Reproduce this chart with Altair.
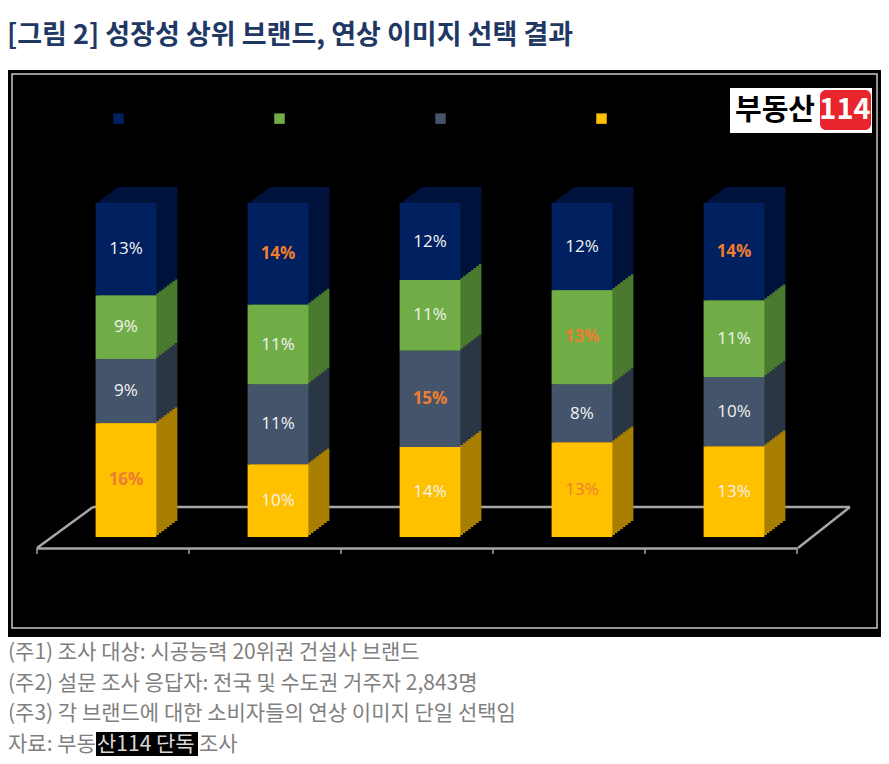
import altair as alt
import pandas as pd

# data (bottom -> top: yellow, slate, green, navy)
brands = ["브랜드 A", "브랜드 B", "브랜드 C", "브랜드 D", "브랜드 E"]
series = ["이미지 1", "이미지 2", "이미지 3", "이미지 4"]  # navy, green, slate, yellow
navy = [13, 14, 12, 12, 14]
green = [9, 11, 11, 13, 11]
slate = [9, 11, 15, 8, 10]
yellow = [16, 10, 14, 13, 13]
# 2 = bold orange label, 1 = orange label, 0 = white label
navy_hl = [0, 2, 0, 0, 2]
green_hl = [0, 0, 0, 2, 0]
slate_hl = [0, 0, 2, 0, 0]
yellow_hl = [2, 0, 0, 1, 0]

title = "[그림 2] 성장성 상위 브랜드, 연상 이미지 선택 결과"
notes = [
    "(주1) 조사 대상: 시공능력 20위권 건설사 브랜드",
    "(주2) 설문 조사 응답자: 전국 및 수도권 거주자 2,843명",
    "(주3) 각 브랜드에 대한 소비자들의 연상 이미지 단일 선택임",
]
source = ["자료: 부동", "산114 단독", "조사"]

front = ["#002060", "#70AD47", "#44546A", "#FFC000"]
side = ["#00133D", "#4A7A2E", "#2B3645", "#A87F00"]

rows = []
for name, vals, hls, order in zip(
    series, [navy, green, slate, yellow], [navy_hl, green_hl, slate_hl, yellow_hl], [4, 3, 2, 1]
):
    for b, v, h in zip(brands, vals, hls):
        rows.append({"brand": b, "series": name, "value": v, "hl": h, "order": order})
df = pd.DataFrame(rows)

FONT = "Noto Sans CJK KR"
GREY = "#a6a6a6"
NOTE = "#7f7f7f"

xscale = alt.Scale(domain=brands, range=[29, 789], paddingInner=0.6, paddingOuter=0.3)
yscale = alt.Scale(domain=[0, 1], range=[467, 133])
xaxis = alt.Axis(labels=False, title=None, ticks=False, domainColor=GREY, domainWidth=2.5, offset=-89)

base = (
    alt.Chart(df)
    .transform_joinaggregate(total="sum(value)", groupby=["brand"])
    .transform_calculate(share="datum.value / datum.total", label="datum.value + '%'")
    .transform_stack(stack="share", groupby=["brand"], as_=["y0", "y1"],
                     sort=[alt.SortField("order", order="ascending")])
    .transform_calculate(mid="(datum.y0 + datum.y1) / 2")
)


def depth(dx, dy):
    # darker copy of the stack, pushed back to fake the 3-D side and top
    return base.mark_bar(xOffset=13 + dx, x2Offset=13 + dx, yOffset=-dy, y2Offset=-dy).encode(
        x=alt.X("brand:N", scale=xscale, axis=xaxis),
        y=alt.Y("y0:Q", scale=yscale, axis=None),
        y2="y1:Q",
        color=alt.Color("series:N", scale=alt.Scale(domain=series, range=side), legend=None),
    )


steps = 8
backs = [depth(21 * k / steps, 16 * k / steps) for k in range(steps, 0, -1)]

bars = base.mark_bar(xOffset=13, x2Offset=13).encode(
    x=alt.X("brand:N", scale=xscale, axis=xaxis),
    y=alt.Y("y0:Q", scale=yscale, axis=None),
    y2="y1:Q",
    color=alt.Color(
        "series:N",
        scale=alt.Scale(domain=series, range=front),
        legend=alt.Legend(
            orient="none", legendX=105, legendY=43, direction="horizontal", title=None,
            labelExpr="''", symbolType="square", symbolSize=110, symbolStrokeWidth=0,
            columnPadding=150, labelOffset=0, padding=0,
        ),
    ),
)

txt_plain = base.transform_filter("datum.hl < 2").mark_text(
    xOffset=13, font="Open Sans", fontSize=17
).encode(
    x=alt.X("brand:N", scale=xscale, axis=xaxis),
    y=alt.Y("mid:Q", scale=yscale, axis=None),
    text="label:N",
    color=alt.condition("datum.hl == 1", alt.value("#ED7D31"), alt.value("#F2F2F2")),
)

txt_bold = base.transform_filter("datum.hl == 2").mark_text(
    xOffset=13, font="Open Sans", fontSize=17, fontWeight="bold"
).encode(
    x=alt.X("brand:N", scale=xscale, axis=xaxis),
    y=alt.Y("mid:Q", scale=yscale, axis=None),
    text="label:N",
    color=alt.value("#ED7D31"),
)

one = alt.Data(values=[{}])
cats = alt.Data(values=[{"brand": b} for b in brands])

floor = alt.layer(
    alt.Chart(one).mark_rule(color=GREY, strokeWidth=2.5).encode(
        x=alt.value(85), x2=alt.value(842), y=alt.value(437)),
    alt.Chart(one).mark_rule(color=GREY, strokeWidth=2.5).encode(
        x=alt.value(29), x2=alt.value(85), y=alt.value(478), y2=alt.value(437)),
    alt.Chart(one).mark_rule(color=GREY, strokeWidth=2.5).encode(
        x=alt.value(790), x2=alt.value(842), y=alt.value(478), y2=alt.value(437)),
)

# category ticks sit between the bars, one more at the right end
ticks = alt.layer(
    alt.Chart(cats).mark_rule(color=GREY, strokeWidth=1.5, xOffset=-45.6).encode(
        x=alt.X("brand:N", scale=xscale, bandPosition=0, axis=xaxis),
        y=alt.value(478), y2=alt.value(484)),
    alt.Chart(cats).transform_filter(alt.datum.brand == brands[-1])
    .mark_rule(color=GREY, strokeWidth=1.5, xOffset=45.6).encode(
        x=alt.X("brand:N", scale=xscale, bandPosition=1, axis=xaxis),
        y=alt.value(478), y2=alt.value(484)),
)

frame = alt.Chart(one).mark_rect(fill=None, stroke="#c8c8c8", strokeWidth=1.5).encode(
    x=alt.value(4), x2=alt.value(869), y=alt.value(4), y2=alt.value(558))

logo = alt.layer(
    alt.Chart(one).mark_rect(fill="white").encode(
        x=alt.value(722), x2=alt.value(864), y=alt.value(18), y2=alt.value(63)),
    alt.Chart(one).mark_rect(fill="#E8242C", cornerRadius=6).encode(
        x=alt.value(812), x2=alt.value(863), y=alt.value(20), y2=alt.value(60)),
    alt.Chart(one).mark_text(font=FONT, fontSize=29, fontWeight="bold", color="black").encode(
        x=alt.value(767), y=alt.value(41), text=alt.value("부동산")),
    alt.Chart(one).mark_text(font=FONT, fontSize=29, fontWeight="bold", color="white").encode(
        x=alt.value(837), y=alt.value(40), text=alt.value("114")),
)


def note(text, x, y, color=NOTE):
    return alt.Chart(one).mark_text(font=FONT, fontSize=21, color=color, align="left",
                                    baseline="middle").encode(
        x=alt.value(x), y=alt.value(y), text=alt.value(text))


note_layers = [note(line, 0, 583 + 30.5 * i) for i, line in enumerate(notes)]
note_layers += [
    alt.Chart(one).mark_rect(fill="black").encode(
        x=alt.value(88), x2=alt.value(190), y=alt.value(662), y2=alt.value(686)),
    note(source[0], 0, 674.5),
    note(source[1], 89, 674.5, "#d9d9d9"),
    note(source[2], 191, 674.5),
]

chart = (
    alt.layer(frame, floor, ticks, *backs, bars, txt_plain, txt_bold, logo, *note_layers)
    .resolve_scale(color="independent")
    .properties(
        width=873, height=567,
        title=alt.TitleParams(title, anchor="start", font=FONT, fontSize=27, fontWeight="bold",
                              color="#1F3864", offset=20, dx=-1),
        autosize=alt.AutoSizeParams(type="none"),
        padding={"left": 0, "right": 0, "top": 62, "bottom": 119},
        background="white",
    )
    .configure_view(fill="black", stroke=None)
)

chart.save("out.html", embed_options={"renderer": "svg", "actions": False})
